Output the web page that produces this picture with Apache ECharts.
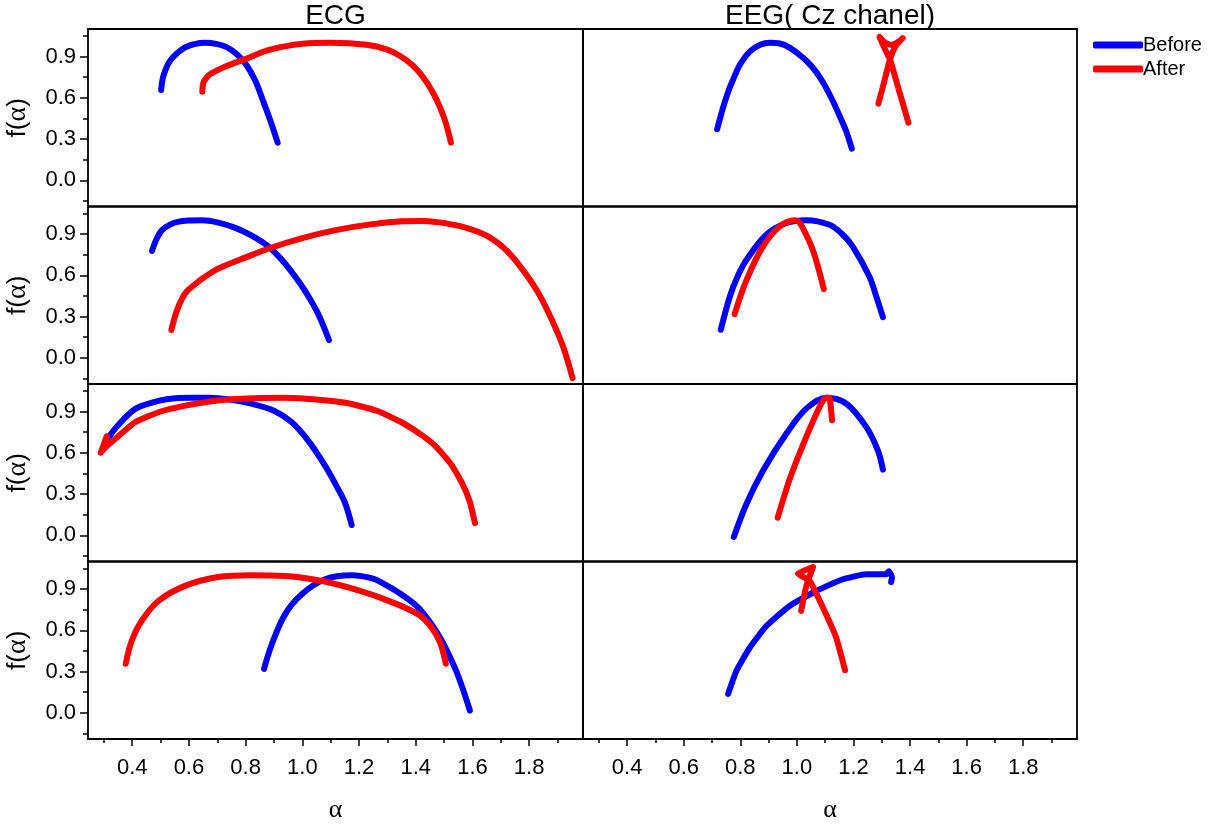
<!DOCTYPE html>
<html>
<head>
<meta charset="utf-8">
<script src="https://cdn.jsdelivr.net/npm/echarts@6/dist/echarts.min.js"></script>
<style>
html,body{margin:0;padding:0;background:#fff;}
#chart{width:1220px;height:825px;}
</style>
</head>
<body>
<div id="chart"></div>
<script>
// ---- Data (alpha, f(alpha)) ----
const colTitles = ['ECG', 'EEG( Cz chanel)'];
const seriesNames = ['Before', 'After'];
const xMajorTicks = [0.4, 0.6, 0.8, 1.0, 1.2, 1.4, 1.6, 1.8];
const xMinorTicks = [0.3, 0.5, 0.7, 0.9, 1.1, 1.3, 1.5, 1.7, 1.9];
const yMajorTicks = [0.0, 0.3, 0.6, 0.9];
const yMinorTicks = [-0.15, 0.15, 0.45, 0.75, 1.05];

const ecg1Before = [[0.502,0.657],[0.510,0.759],[0.533,0.868],[0.580,0.958],[0.620,0.99],[0.657,1.0],[0.700,0.99],[0.733,0.968],[0.77,0.915],[0.804,0.835],[0.835,0.72],[0.862,0.575],[0.888,0.43],[0.913,0.274]];
const ecg1After = [[0.647,0.645],[0.651,0.71],[0.660,0.74],[0.674,0.771],[0.733,0.831],[0.804,0.885],[0.87,0.94],[0.933,0.972],[1.0,0.993],[1.098,1.0],[1.227,0.985],[1.30,0.95],[1.345,0.904],[1.39,0.835],[1.427,0.747],[1.46,0.64],[1.486,0.529],[1.507,0.41],[1.524,0.274]];

const ecg2Before = [[0.470,0.778],[0.485,0.86],[0.505,0.928],[0.535,0.97],[0.564,0.99],[0.60,0.998],[0.646,1.0],[0.70,0.985],[0.764,0.945],[0.82,0.89],[0.882,0.807],[0.935,0.695],[0.988,0.553],[1.025,0.435],[1.058,0.31],[1.094,0.13]];
const ecg2After = [[0.538,0.203],[0.555,0.33],[0.576,0.433],[0.595,0.49],[0.611,0.517],[0.65,0.58],[0.705,0.65],[0.80,0.73],[0.882,0.795],[1.0,0.87],[1.117,0.928],[1.24,0.97],[1.353,0.993],[1.42,0.995],[1.471,0.988],[1.56,0.955],[1.647,0.891],[1.71,0.80],[1.765,0.674],[1.83,0.48],[1.883,0.263],[1.92,0.08],[1.953,-0.147]];

const ecg3Before = [[0.316,0.71],[0.35,0.80],[0.410,0.918],[0.47,0.965],[0.527,0.991],[0.60,1.0],[0.67,1.0],[0.75,0.985],[0.823,0.955],[0.90,0.905],[0.963,0.822],[1.02,0.69],[1.080,0.507],[1.12,0.36],[1.150,0.24],[1.174,0.075]];
const ecg3After = [[0.31,0.72],[0.289,0.601],[0.305,0.64],[0.339,0.70],[0.410,0.822],[0.50,0.90],[0.586,0.943],[0.68,0.975],[0.763,0.991],[0.939,1.0],[1.06,0.985],[1.174,0.955],[1.27,0.90],[1.350,0.822],[1.42,0.73],[1.468,0.652],[1.52,0.53],[1.562,0.385],[1.59,0.25],[1.609,0.089]];

const ecg4Before = [[0.865,0.32],[0.892,0.497],[0.939,0.716],[0.998,0.862],[1.080,0.971],[1.174,1.0],[1.25,0.975],[1.291,0.934],[1.35,0.86],[1.409,0.765],[1.479,0.57],[1.538,0.328],[1.565,0.18],[1.591,0.017]];
const ecg4After = [[0.377,0.357],[0.398,0.522],[0.433,0.668],[0.492,0.813],[0.586,0.923],[0.703,0.988],[0.821,1.0],[0.939,0.995],[1.056,0.964],[1.174,0.905],[1.291,0.825],[1.409,0.716],[1.456,0.619],[1.486,0.51],[1.506,0.357]];

const eeg1Before = [[0.718,0.371],[0.739,0.529],[0.76,0.66],[0.774,0.73],[0.80,0.845],[0.833,0.935],[0.87,0.985],[0.904,1.0],[0.94,0.995],[0.974,0.965],[1.02,0.895],[1.056,0.82],[1.09,0.72],[1.127,0.577],[1.155,0.45],[1.174,0.359],[1.194,0.231]];
const eeg1After = [[1.288,0.558],[1.309,0.72],[1.329,0.88],[1.350,0.98],[1.374,1.033],[1.353,1.0],[1.333,0.984],[1.312,1.0],[1.292,1.042],[1.312,0.95],[1.329,0.88],[1.36,0.66],[1.394,0.42]];

const eeg2Before = [[0.731,0.204],[0.763,0.446],[0.79,0.59],[0.822,0.713],[0.892,0.895],[0.963,0.98],[1.033,1.0],[1.115,0.967],[1.16,0.90],[1.197,0.81],[1.256,0.591],[1.28,0.45],[1.304,0.296]];
const eeg2After = [[0.78,0.32],[0.822,0.567],[0.880,0.81],[0.939,0.955],[0.992,1.0],[1.005,0.99],[1.015,0.967],[1.056,0.785],[1.095,0.5]];

const eeg3Before = [[0.777,-0.012],[0.822,0.23],[0.881,0.473],[0.963,0.74],[1.033,0.921],[1.104,1.0],[1.174,0.958],[1.245,0.788],[1.286,0.618],[1.304,0.478]];
const eeg3After = [[0.932,0.129],[0.973,0.4],[1.033,0.715],[1.080,0.933],[1.101,1.0],[1.115,1.0],[1.124,0.836]];

const eeg4Before = [[0.757,0.138],[0.786,0.304],[0.833,0.473],[0.892,0.631],[0.974,0.777],[1.068,0.886],[1.162,0.971],[1.245,1.007],[1.315,1.007],[1.325,1.03],[1.336,0.985],[1.333,0.95]];
const eeg4After = [[1.015,0.741],[1.033,0.92],[1.057,1.06],[1.003,1.012],[1.045,0.96],[1.092,0.765],[1.139,0.546],[1.17,0.31]];

const panels = [
  [ecg1Before, ecg1After], [eeg1Before, eeg1After],
  [ecg2Before, ecg2After], [eeg2Before, eeg2After],
  [ecg3Before, ecg3After], [eeg3Before, eeg3After],
  [ecg4Before, ecg4After], [eeg4Before, eeg4After]
];
// series with sharp hooks get little smoothing
const hooked = [ecg3After, eeg1After, eeg3After, eeg4Before, eeg4After];

// ---- Layout / style ----
const X_MIN = 0.244, X_MAX = 1.99, Y_MIN = -0.19, Y_MAX = 1.10;
const colLeft = [88, 583], colWidth = [495, 494];
const rowTop = [29, 206.5, 384, 561.5], rowHeight = 177.5;
const colors = ['#0000ff', '#ff0000'];
const SANS = '"Liberation Sans", Arial, sans-serif';
const SERIF = '"Liberation Serif", "Times New Roman", serif';

const grids = [], xAxes = [], yAxes = [], series = [];
for (let r = 0; r < 4; r++) {
  for (let c = 0; c < 2; c++) {
    const gi = grids.length;
    grids.push({
      left: colLeft[c], top: rowTop[r], width: colWidth[c], height: rowHeight,
      show: true, borderColor: '#000', borderWidth: 1.8, backgroundColor: 'transparent'
    });
    const bottom = r === 3;
    const xi = xAxes.length;
    xAxes.push({
      type: 'value', gridIndex: gi, min: X_MIN, max: X_MAX, position: 'bottom',
      axisLine: { show: false, onZero: false },
      splitLine: { show: false },
      axisTick: bottom ? { show: true, inside: false, length: 7, customValues: xMajorTicks, lineStyle: { color: '#000', width: 1.5 } } : { show: false },
      axisLabel: bottom ? { show: true, customValues: xMajorTicks, margin: 18, fontSize: 22, color: '#000', fontFamily: SANS, formatter: v => v.toFixed(1) } : { show: false },
      name: bottom ? 'α' : '', nameLocation: 'middle', nameGap: 58,
      nameTextStyle: { fontSize: 26, fontFamily: SERIF, color: '#000' }
    });
    if (bottom) {
      xAxes.push({
        type: 'value', gridIndex: gi, min: X_MIN, max: X_MAX, position: 'bottom',
        axisLine: { show: false, onZero: false }, splitLine: { show: false }, axisLabel: { show: false },
        axisTick: { show: true, inside: false, length: 4, customValues: xMinorTicks, lineStyle: { color: '#000', width: 1.5 } }
      });
    }
    const left = c === 0;
    const yi = yAxes.length;
    yAxes.push({
      type: 'value', gridIndex: gi, min: Y_MIN, max: Y_MAX, position: 'left',
      axisLine: { show: false, onZero: false }, splitLine: { show: false },
      axisTick: left ? { show: true, inside: false, length: 8, customValues: yMajorTicks, lineStyle: { color: '#000', width: 1.5 } } : { show: false },
      axisLabel: left ? { show: true, customValues: yMajorTicks, margin: 12, fontSize: 22, color: '#000', fontFamily: SANS, formatter: v => v.toFixed(1) } : { show: false },
      name: left ? '{f|f(}{a|α}{f|)}' : '', nameLocation: 'middle', nameGap: 56, nameRotate: 90,
      nameTextStyle: { rich: { f: { fontSize: 26, fontFamily: SANS, color: '#000' }, a: { fontSize: 28, fontFamily: SERIF, color: '#000' } } }
    });
    if (left) {
      yAxes.push({
        type: 'value', gridIndex: gi, min: Y_MIN, max: Y_MAX, position: 'left',
        axisLine: { show: false, onZero: false }, splitLine: { show: false }, axisLabel: { show: false },
        axisTick: { show: true, inside: false, length: 5, customValues: yMinorTicks, lineStyle: { color: '#000', width: 1.5 } }
      });
    }
    panels[gi].forEach((data, k) => {
      series.push({
        name: seriesNames[k], type: 'line', xAxisIndex: xi, yAxisIndex: yi,
        data: data, showSymbol: false, smooth: hooked.includes(data) ? 0.15 : 0.35, clip: true,
        lineStyle: { color: colors[k], width: 6, cap: 'round', join: 'round' },
        itemStyle: { color: colors[k] }, z: 2 + k, silent: true, animation: false
      });
    });
  }
}

const chart = echarts.init(document.getElementById('chart'), null, { renderer: 'canvas' });
chart.setOption({
  animation: false,
  backgroundColor: '#fff',
  grid: grids, xAxis: xAxes, yAxis: yAxes, series: series,
  legend: {
    data: seriesNames, orient: 'vertical', left: 1088, top: 30,
    icon: 'roundRect', itemWidth: 50, itemHeight: 7, itemGap: 4,
    textStyle: { fontSize: 20, fontFamily: SANS, color: '#000', padding: [0, 0, 0, -5] }
  },
  graphic: colTitles.map((t, c) => ({
    type: 'text', x: colLeft[c] + colWidth[c] / 2, y: 2,
    style: { text: t, fontSize: 28, fontFamily: SANS, fill: '#000', textAlign: 'center', textVerticalAlign: 'top' }
  }))
});
</script>
</body>
</html>
